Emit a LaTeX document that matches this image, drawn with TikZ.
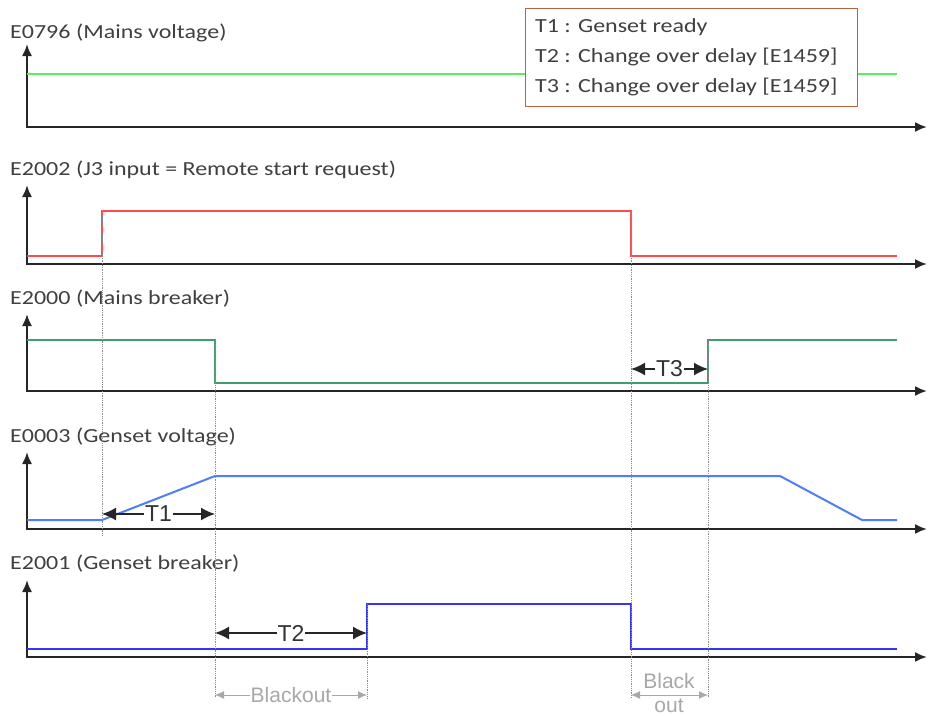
\documentclass[tikz,border=0pt]{standalone}
\usepackage{fontspec}
\setmainfont{Carlito}[FakeStretch=1.2]
\newfontfamily\dimfont{Liberation Sans}
\usetikzlibrary{arrows.meta}
\definecolor{txt}{HTML}{404040}
\definecolor{sgreen}{HTML}{5AEE5A}
\definecolor{sred}{HTML}{FF4A4A}
\definecolor{sdgreen}{HTML}{3E9E6E}
\definecolor{slblue}{HTML}{4E7EFF}
\definecolor{sblue}{HTML}{3434FF}
\definecolor{legbrd}{HTML}{B8653F}
\definecolor{bogray}{HTML}{A8A8A8}
\tikzset{
  axisline/.style={line width=2pt, draw=black!85, {Latex[length=12pt,width=10pt]}-{Latex[length=12pt,width=10pt]}},
  sig/.style={line width=2pt},
  guide/.style={draw=black!45, line width=0.8pt, densely dotted},
  lbl/.style={font=\fontsize{20pt}{22pt}\selectfont, text=txt, anchor=base west, inner sep=0pt},
  dim/.style={line width=1.6pt, draw=black!85, {Latex[length=14pt,width=13pt]}-{Latex[length=14pt,width=13pt]}},
  dimlbl/.style={font=\dimfont\fontsize{23pt}{24pt}\selectfont, text=black!80, fill=white, inner sep=1pt},
  bo/.style={line width=1pt, draw=bogray, {Latex[length=9pt,width=8pt]}-{Latex[length=9pt,width=8pt]}},
  bolbl/.style={font=\dimfont\fontsize{21pt}{22pt}\selectfont, text=bogray, inner sep=1pt},
}
\begin{document}
\begin{tikzpicture}[x=1pt,y=-1pt]
\useasboundingbox (0,0) rectangle (929,715);
\fill[white] (0,0) rectangle (929,715);

% ---------- panel 1
\node[lbl] (l1) at (10,38) {E0796 (Mains voltage)};
\coordinate (o1) at (27,127);
\draw[axisline] (27,44) -- (o1) -- (927,127);
\draw[sig, sgreen] (27,74) -- (897,74);

% ---------- panel 2
\node[lbl] (l2) at (10,175) {E2002 (J3 input = Remote start request)};
\coordinate (o2) at (27,264);
\draw[axisline] (27,185) -- (o2) -- (927,264);
\coordinate (r1) at (102,256); \coordinate (r2) at (102,211);
\coordinate (r3) at (631,211); \coordinate (r4) at (631,256);
\draw[sig, sred] (27,256) -- (r1) -- (r2) -- (r3) -- (r4) -- (897,256);

% ---------- panel 3
\node[lbl] (l3) at (10,304) {E2000 (Mains breaker)};
\coordinate (o3) at (27,391);
\draw[axisline] (27,314) -- (o3) -- (927,391);
\coordinate (g1) at (215,340); \coordinate (g2) at (215,383);
\coordinate (g3) at (708,383); \coordinate (g4) at (708,340);
\draw[sig, sdgreen] (27,340) -- (g1) -- (g2) -- (g3) -- (g4) -- (897,340);

% ---------- panel 4
\node[lbl] (l4) at (10,442) {E0003 (Genset voltage)};
\coordinate (o4) at (27,529);
\draw[axisline] (27,452) -- (o4) -- (927,529);
\coordinate (v1) at (102,520); \coordinate (v2) at (215,476);
\coordinate (v3) at (780,476); \coordinate (v4) at (862,520);
\draw[sig, slblue] (27,520) -- (v1) -- (v2) -- (v3) -- (v4) -- (897,520);

% ---------- panel 5
\node[lbl] (l5) at (10,569) {E2001 (Genset breaker)};
\coordinate (o5) at (27,657);
\draw[axisline] (27,580) -- (o5) -- (927,657);
\coordinate (b1) at (367,649); \coordinate (b2) at (367,604);
\coordinate (b3) at (631,604); \coordinate (b4) at (631,649);
\draw[sig, sblue] (27,649) -- (b1) -- (b2) -- (b3) -- (b4) -- (897,649);

% ---------- guide lines
\coordinate (d1) at (102,536);
\coordinate (d2) at (215,698);
\coordinate (d3) at (367,698);
\coordinate (d4) at (631,698);
\coordinate (d5) at (708,698);
\draw[guide] (r2) -- (d1);
\draw[guide] (g1) -- (d2);
\draw[guide] (b2) -- (d3);
\draw[guide] (r3) -- (d4);
\draw[guide] (g4) -- (d5);

% ---------- dimension arrows
\coordinate (t1a) at (102,514); \coordinate (t1b) at (215,514);
\draw[dim] (t1a) -- node[dimlbl] (t1) {T1} (t1b);
\coordinate (t2a) at (215,633); \coordinate (t2b) at (367,633);
\draw[dim] (t2a) -- node[dimlbl] (t2) {T2} (t2b);
\coordinate (t3a) at (631,369); \coordinate (t3b) at (708,369);
\draw[dim] (t3a) -- node[dimlbl] (t3) {T3} (t3b);

\coordinate (bo1a) at (215,695); \coordinate (bo1b) at (367,695);
\draw[bo] (bo1a) -- node[bolbl, fill=white] (bo1) {Blackout} (bo1b);
\coordinate (bo2a) at (631,695); \coordinate (bo2b) at (708,695);
\draw[bo] (bo2a) -- (bo2b);
\node[bolbl, fill=white, anchor=base] (bo2) at (669,688) {Black};
\node[bolbl, fill=white, anchor=base] (bo3) at (669,712) {out};

% ---------- legend
\node[draw=legbrd, line width=1.2pt, fill=white, minimum width=332pt, minimum height=98pt, anchor=north west] (leg) at (525,8) {};
\node[lbl] (leg1) at (535,32) {T1 : Genset ready};
\node[lbl] (leg2) at (535,62) {T2 : Change over delay [E1459]};
\node[lbl] (leg3) at (535,92) {T3 : Change over delay [E1459]};
\end{tikzpicture}
\end{document}
